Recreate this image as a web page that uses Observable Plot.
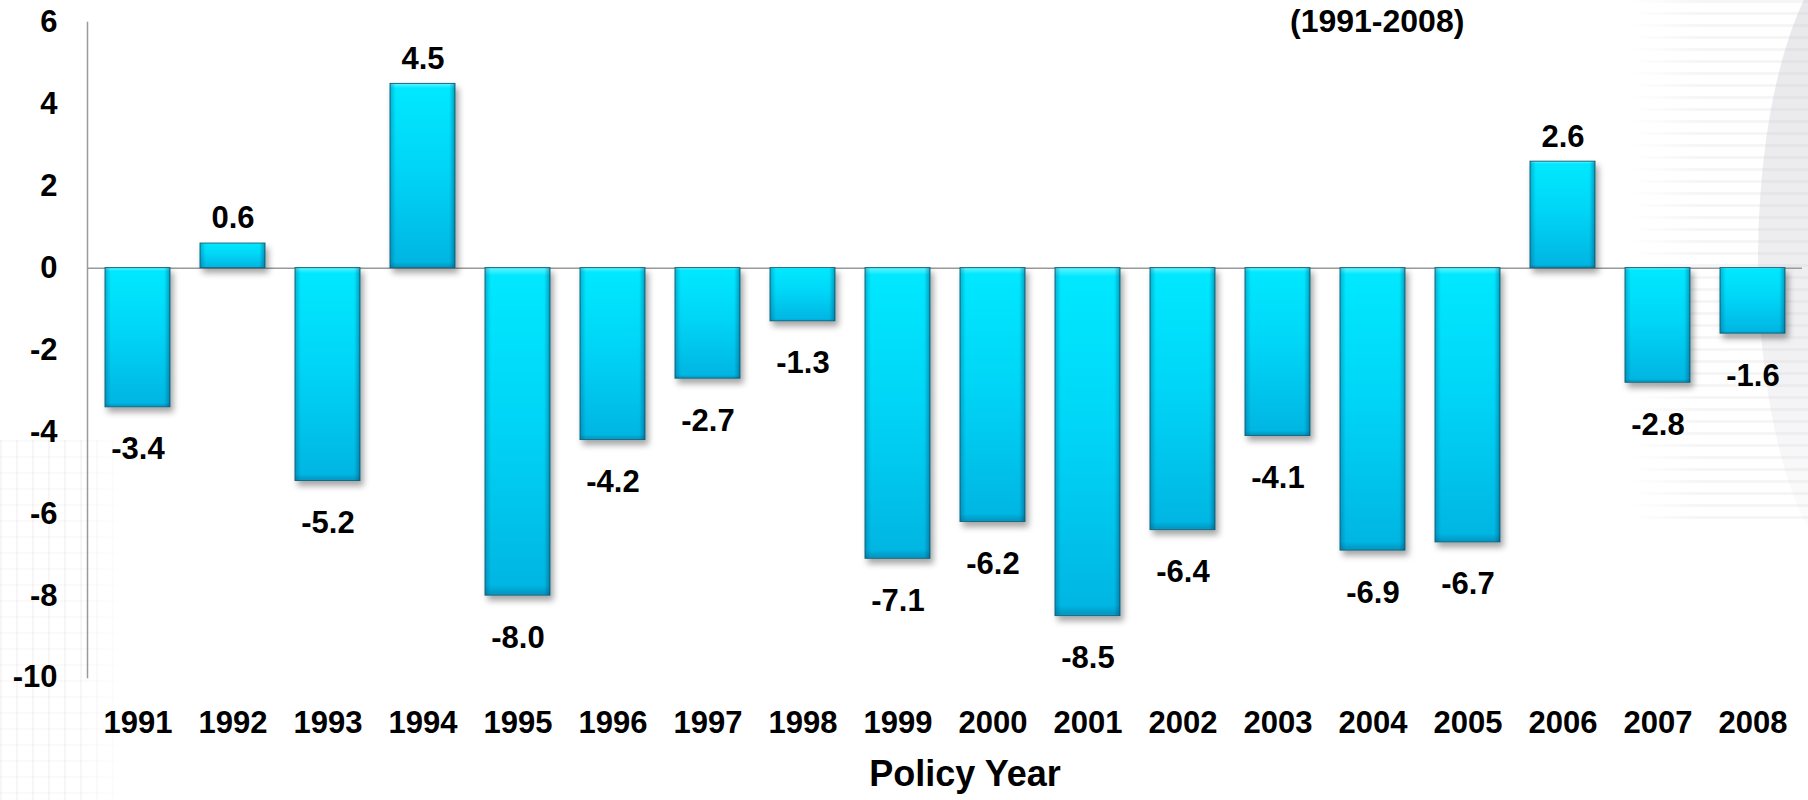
<!DOCTYPE html>
<html>
<head>
<meta charset="utf-8">
<script src="https://cdn.jsdelivr.net/npm/d3@7"></script>
<script src="https://cdn.jsdelivr.net/npm/@observablehq/plot@0.6"></script>
<style>
  html, body { margin: 0; padding: 0; background: #ffffff; }
  #wrap { position: relative; width: 1808px; height: 800px; overflow: hidden;
          font-family: "Liberation Sans", Arial, sans-serif; }
  #chart { position: absolute; left: 0; top: 0; z-index: 2; }
  .deco-right { position: absolute; left: 1630px; top: 0; width: 178px; height: 520px; z-index: 0;
    background: repeating-linear-gradient(to bottom, rgba(120,120,130,0.07) 0 3px, rgba(0,0,0,0) 3px 12px);
    -webkit-mask-image: linear-gradient(to right, rgba(0,0,0,0), #000 40%);
    mask-image: linear-gradient(to right, rgba(0,0,0,0), #000 40%);
  }
  .deco-ellipse { position: absolute; left: 1758px; top: -60px; width: 220px; height: 640px; border-radius: 50%; z-index: 1;
    background: linear-gradient(to bottom, rgba(185,185,195,0.34), rgba(195,195,205,0.26) 60%, rgba(220,220,225,0.0));
  }
  .deco-left { position: absolute; left: 0; top: 440px; width: 125px; height: 360px; z-index: 0;
    background: repeating-linear-gradient(to right, rgba(200,150,170,0.10) 0 2px, rgba(0,0,0,0) 2px 16px),
                repeating-linear-gradient(to bottom, rgba(150,150,160,0.05) 0 2px, rgba(0,0,0,0) 2px 16px);
    -webkit-mask-image: linear-gradient(to right, #000 60%, rgba(0,0,0,0));
    mask-image: linear-gradient(to right, #000 60%, rgba(0,0,0,0));
  }
  #title { position: absolute; z-index: 3; left: 1290px; top: 3px; font-size: 32px; line-height: 36px;
           font-weight: bold; color: #000; white-space: nowrap; }
</style>
</head>
<body>
<div id="wrap">
  <div class="deco-right"></div>
  <div class="deco-ellipse"></div>
  <div class="deco-left"></div>
  <div id="title">(1991-2008)</div>
  <div id="chart"></div>
</div>
<script>
// ---- data ----
const years = [1991, 1992, 1993, 1994, 1995, 1996, 1997, 1998, 1999, 2000, 2001, 2002, 2003, 2004, 2005, 2006, 2007, 2008];
const values = [-3.4, 0.6, -5.2, 4.5, -8.0, -4.2, -2.7, -1.3, -7.1, -6.2, -8.5, -6.4, -4.1, -6.9, -6.7, 2.6, -2.8, -1.6];
const yTicks = [-10, -8, -6, -4, -2, 0, 2, 4, 6];
const xTitle = "Policy Year";

const data = years.map((y, i) => ({ year: String(y), value: values[i] }));
const fmt = d => d.value.toFixed(1);

const chart = Plot.plot({
  width: 1808,
  height: 800,
  marginLeft: 87,
  marginRight: 6,
  marginTop: 22,
  marginBottom: 123,
  style: {
    fontFamily: '"Liberation Sans", Arial, sans-serif',
    fontSize: "31px",
    fontWeight: "bold",
    color: "#000",
    background: "transparent",
    overflow: "visible"
  },
  x: {
    type: "band",
    domain: years.map(String),
    paddingInner: 0.32,
    paddingOuter: 0.16,
    tickSize: 0,
    tickPadding: 33,
    label: xTitle,
    labelAnchor: "center",
    labelOffset: 108
  },
  y: {
    domain: [-10, 6],
    ticks: yTicks,
    tickFormat: d => String(d),
    tickSize: 0,
    tickPadding: 30,
    label: null
  },
  marks: [
    Plot.ruleY([0], { stroke: "#9a9a9a", strokeWidth: 1.5 }),
    Plot.barY(data, { x: "year", y: "value", fill: "url(#barGrad)", stroke: "#17697f", strokeWidth: 1 }),
    Plot.barY(data, { x: "year", y: "value", fill: "url(#bevelGrad)" }),
    Plot.text(data.filter(d => d.value >= 0), { x: "year", y: "value", text: fmt, dy: -25, fontSize: 31, fill: "#000" }),
    Plot.text(data.filter(d => d.value < 0), { x: "year", y: "value", text: fmt, dy: 42, fontSize: 31, fill: "#000" }),
    Plot.frame({ anchor: "left", stroke: "#9a9a9a", strokeWidth: 1.5 })
  ]
});

document.getElementById("chart").appendChild(chart);

// ---- gradients, bevel and shadow ----
const svg = d3.select(chart.tagName.toLowerCase() === "svg" ? chart : chart.querySelector("svg"));
const defs = svg.insert("defs", ":first-child");

const g1 = defs.append("linearGradient").attr("id", "barGrad")
  .attr("x1", 0).attr("y1", 0).attr("x2", 0).attr("y2", 1);
[[0, "#63f4ff"], [0.025, "#00e8ff"], [0.45, "#00d6f7"], [0.97, "#00b6e2"], [1, "#0893bd"]]
  .forEach(([o, c]) => g1.append("stop").attr("offset", o).attr("stop-color", c));

const g2 = defs.append("linearGradient").attr("id", "bevelGrad")
  .attr("x1", 0).attr("y1", 0).attr("x2", 1).attr("y2", 0);
[[0, "rgba(0,70,110,0.32)"], [0.09, "rgba(0,70,110,0)"], [0.91, "rgba(0,70,110,0)"], [1, "rgba(0,50,90,0.40)"]]
  .forEach(([o, c]) => g2.append("stop").attr("offset", o).attr("stop-color", c));

const f = defs.append("filter").attr("id", "shadow")
  .attr("x", "-20%").attr("y", "-20%").attr("width", "150%").attr("height", "150%");
f.append("feDropShadow").attr("dx", 3).attr("dy", 5).attr("stdDeviation", 3)
  .attr("flood-color", "#000").attr("flood-opacity", 0.35);

svg.selectAll('g[aria-label="bar"]').filter((d, i) => i === 0).attr("filter", "url(#shadow)");

// x-axis title: larger font, nudged right like the reference
svg.selectAll("text").filter(function () { return this.textContent === xTitle; })
  .attr("font-size", 36).attr("dx", 20);
</script>
</body>
</html>
